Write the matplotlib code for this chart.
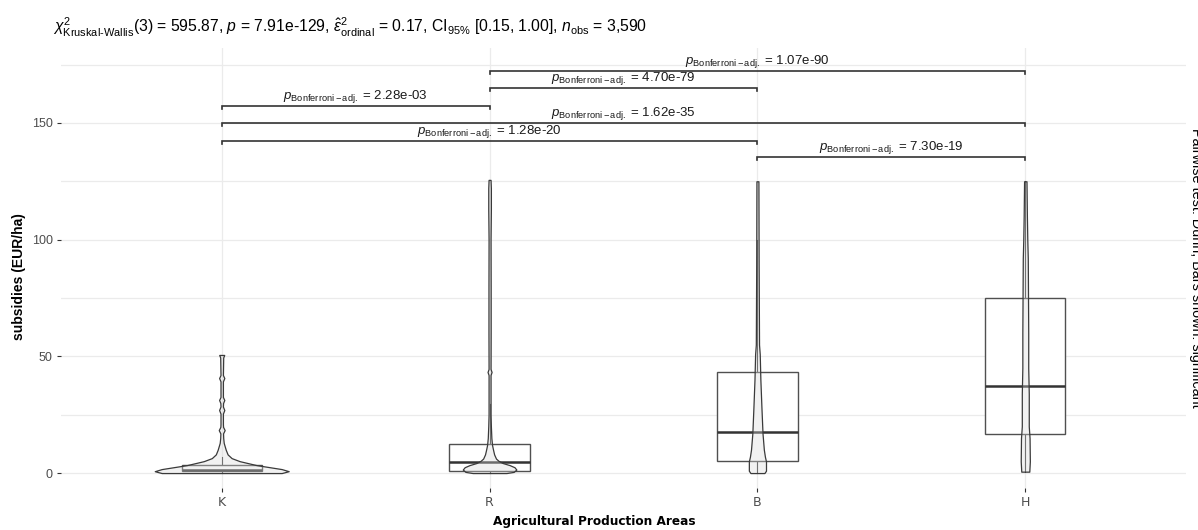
import matplotlib
matplotlib.use("Agg")
import matplotlib.pyplot as plt
import numpy as np

plt.rcParams['font.family'] = ['Liberation Sans', 'DejaVu Sans']
plt.rcParams['mathtext.fontset'] = 'custom'
plt.rcParams['mathtext.rm'] = 'Liberation Sans'
plt.rcParams['mathtext.it'] = 'Liberation Sans:italic'
plt.rcParams['mathtext.bf'] = 'Liberation Sans:bold'

# ---------------- data ----------------
categories = ['K', 'R', 'B', 'H']

box_q1 = [0.9, 0.9, 5.1, 16.7]
box_median = [1.5, 4.7, 17.6, 37.3]
box_q3 = [3.4, 12.4, 43.3, 75.0]
whisker_low = [0.0, 0.0, 0.0, 0.6]
whisker_high = [7.0, 29.5, 100.0, 125.0]

# violin density profiles: y values and half-widths (in category units)
violin_y_K = [0, 0.8, 1.7, 3.4, 5.1, 6.4, 8, 10, 12.9, 15, 17, 18.4, 19.8, 21,
              25.5, 27, 28.5, 30, 31.3, 32.6, 39.3, 40.7, 42, 49.5, 50.6]
violin_w_K = [0.224, 0.25, 0.224, 0.13, 0.067, 0.037, 0.022, 0.015, 0.0075, 0.0056,
              0.005, 0.011, 0.005, 0.0045, 0.0045, 0.0097, 0.0045, 0.005, 0.0097,
              0.0045, 0.0045, 0.0097, 0.0045, 0.0056, 0.0093]
violin_y_R = [0, 0.5, 1.5, 2.5, 3.4, 4.3, 5.2, 6.2, 8, 10, 12, 15, 20, 25, 42,
              43.3, 44.6, 60, 80, 100, 113, 122, 125.6]
violin_w_R = [0.063, 0.09, 0.1, 0.093, 0.075, 0.049, 0.034, 0.024, 0.017, 0.013,
              0.0093, 0.0067, 0.0049, 0.0037, 0.0037, 0.0075, 0.0037, 0.0041,
              0.0041, 0.0037, 0.0049, 0.0049, 0.0037]
violin_y_B = [0, 1, 5, 7, 10, 17, 28, 40, 51, 55, 64, 90, 125]
violin_w_B = [0.026, 0.032, 0.032, 0.028, 0.024, 0.019, 0.015, 0.011, 0.0086,
              0.006, 0.0056, 0.0045, 0.0037]
violin_y_H = [0.6, 5, 15, 20, 34, 45, 60, 92, 100, 110, 125]
violin_w_H = [0.015, 0.017, 0.016, 0.013, 0.013, 0.011, 0.011, 0.0093, 0.0075,
              0.006, 0.0045]

violin_y = [violin_y_K, violin_y_R, violin_y_B, violin_y_H]
violin_w = [violin_w_K, violin_w_R, violin_w_B, violin_w_H]

# pairwise comparisons
pair_a = ['B', 'K', 'K', 'K', 'R', 'R']
pair_b = ['H', 'B', 'H', 'R', 'B', 'H']
pair_y = [135.4, 142.3, 150.0, 157.3, 165.0, 172.3]
pair_p = ['7.30e-19', '1.28e-20', '1.62e-35', '2.28e-03', '4.70e-79', '1.07e-90']

title = (r"$\chi^2_{\mathrm{Kruskal\text{-}Wallis}}$(3) = 595.87, $p$ = 7.91e-129, "
         r"$\hat{\epsilon}^2_{\mathrm{ordinal}}$ = 0.17, CI$_{95\%}$ [0.15, 1.00], "
         r"$n_{\mathrm{obs}}$ = 3,590")
caption = "Pairwise test: Dunn, Bars shown: significant"
xlabel = "Agricultural Production Areas"
ylabel = "subsidies (EUR/ha)"

# ---------------- figure ----------------
W, H = 1198, 530
fig = plt.figure(figsize=(W / 100, H / 100), dpi=100)
ax = fig.add_axes([61 / W, 1 - 488 / H, 1125 / W, 440 / H])

xpos = np.arange(1, len(categories) + 1)
ax.set_xlim(0.4, 4.6)
ax.set_ylim(-6.4, 182.1)

grid_c = '#EBEBEB'
for v in [0, 50, 100, 150]:
    ax.axhline(v, color=grid_c, lw=0.9, zorder=0)
for v in [25, 75, 125, 175]:
    ax.axhline(v, color=grid_c, lw=0.9, zorder=0)
for x in xpos:
    ax.axvline(x, color=grid_c, lw=0.9, zorder=0)

edge_c = '#3A3A3A'
box_w = 0.3
for i, x in enumerate(xpos):
    # whiskers
    ax.plot([x, x], [whisker_low[i], box_q1[i]], color=edge_c, lw=0.8, zorder=2)
    ax.plot([x, x], [box_q3[i], whisker_high[i]], color=edge_c, lw=0.8, zorder=2)
    # box
    ax.add_patch(plt.Rectangle((x - box_w / 2, box_q1[i]), box_w, box_q3[i] - box_q1[i],
                               facecolor='white', edgecolor='#505050', lw=1.0, zorder=2))
    ax.plot([x - box_w / 2, x + box_w / 2], [box_median[i]] * 2, color='#333333',
            lw=1.8, zorder=3, solid_capstyle='butt')
    # violin
    yv = np.array(violin_y[i])
    wv = np.array(violin_w[i])
    ax.fill_betweenx(yv, x - wv, x + wv, facecolor=(0.85, 0.85, 0.85, 0.35),
                     edgecolor=edge_c, lw=0.9, zorder=4)

# significance brackets
tip = 1.4
for a, b, yb, p in zip(pair_a, pair_b, pair_y, pair_p):
    xa = xpos[categories.index(a)]
    xb = xpos[categories.index(b)]
    ax.plot([xa, xa, xb, xb], [yb - tip, yb, yb, yb - tip], color='#333333', lw=1.2,
            zorder=5, solid_joinstyle='miter')
    ax.text((xa + xb) / 2, yb + 3.2, r"$p_{\mathrm{Bonferroni-adj.}}$ = " + p,
            ha='center', va='baseline', fontsize=9.5, color='#1a1a1a', zorder=6)

for s in ax.spines.values():
    s.set_visible(False)
ax.set_xticks(xpos)
ax.set_xticklabels(categories, fontsize=9, color='#4D4D4D', family='DejaVu Sans')
ax.set_yticks([0, 50, 100, 150])
ax.set_yticklabels(['0', '50', '100', '150'], fontsize=9, color='#4D4D4D')
ax.tick_params(axis='both', length=3, width=0.8, color='#333333', pad=3)

fig.text(594 / W, 1 - 522 / H, xlabel, ha='center', va='center', fontsize=8.7,
         fontweight='bold', family='DejaVu Sans')
fig.text(19 / W, 1 - 277 / H, ylabel, ha='center', va='center', rotation=90,
         fontsize=10, fontweight='bold')
fig.text(53 / W, 1 - 27 / H, title, ha='left', va='center', fontsize=11.3)
fig.text(1189 / W, 1 - 268 / H, caption, ha='left', va='center', rotation=270,
         fontsize=10.4)

fig.savefig('out.png', dpi=100)
